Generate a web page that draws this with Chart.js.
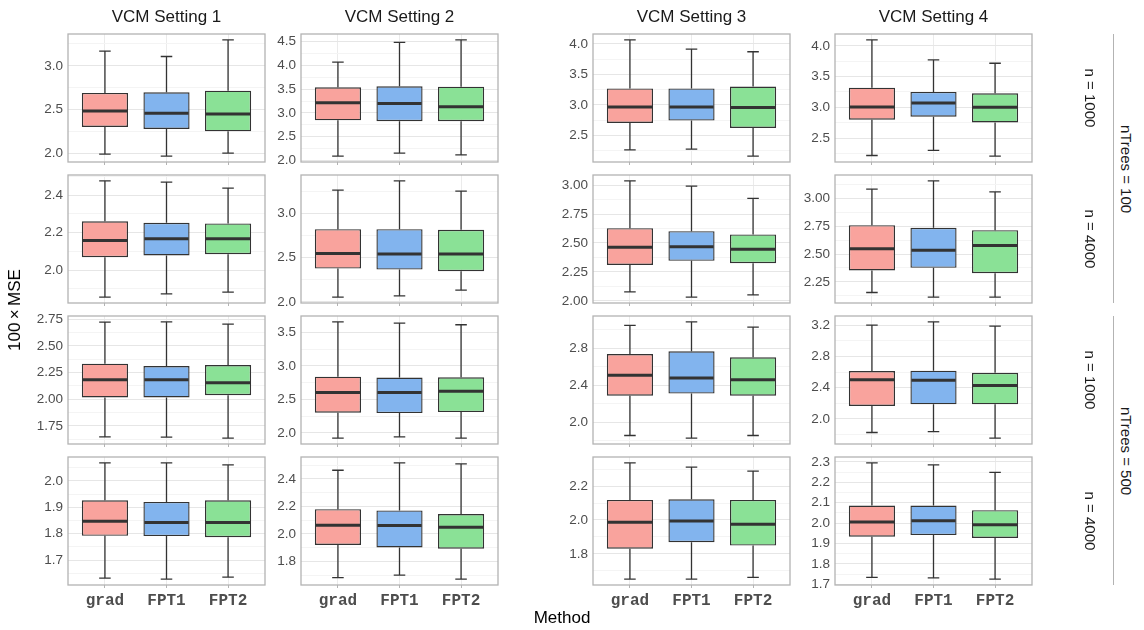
<!DOCTYPE html>
<html>
<head>
<meta charset="utf-8">
<script src="https://cdn.jsdelivr.net/npm/chart.js@4.4.0/dist/chart.umd.min.js"></script>
<style>
  body { margin: 0; background: #fff; }
  #wrap { position: relative; width: 1144px; height: 630px; overflow: hidden; font-family: "Liberation Sans", Arial, sans-serif; }
  #wrap canvas { position: absolute; }
  .lbl { position: absolute; white-space: nowrap; color: #1a1a1a; transform: translate(-50%, -50%); }
  .rot { transform: translate(-50%, -50%) rotate(90deg); }
  .rotl { transform: translate(-50%, -50%) rotate(-90deg); }
  .line { position: absolute; width: 1px; background: #b3b3b3; }
</style>
</head>
<body>
<div id="wrap"></div>
<script>
// methods on the x axis
var categories = ['grad', 'FPT1', 'FPT2'];
var colTitles = ['VCM Setting 1', 'VCM Setting 2', 'VCM Setting 3', 'VCM Setting 4'];
var rowLabels = ['n = 1000', 'n = 4000', 'n = 1000', 'n = 4000'];
var treeLabels = ['nTrees = 100', 'nTrees = 500'];

// box statistics, [row][column][method]
var whiskerLow = [
  [[1.990, 1.966, 2.000], [2.090, 2.153, 2.118], [2.266, 2.277, 2.163], [2.217, 2.299, 2.206]],
  [[1.856, 1.874, 1.883], [2.053, 2.068, 2.132], [2.078, 2.032, 2.052], [2.154, 2.112, 2.112]],
  [[1.646, 1.643, 1.634], [1.920, 1.940, 1.920], [1.856, 1.827, 1.856], [1.826, 1.838, 1.753]],
  [[1.632, 1.628, 1.636], [1.683, 1.700, 1.671], [1.651, 1.651, 1.662], [1.734, 1.731, 1.725]]
];
var quartile1 = [
  [[2.300, 2.278, 2.250], [2.846, 2.825, 2.825], [2.706, 2.745, 2.625], [2.800, 2.848, 2.755]],
  [[2.069, 2.078, 2.085], [2.377, 2.366, 2.347], [2.311, 2.346, 2.326], [2.352, 2.376, 2.328]],
  [[2.016, 2.016, 2.038], [2.300, 2.295, 2.310], [2.288, 2.310, 2.288], [2.166, 2.187, 2.187]],
  [[1.792, 1.791, 1.787], [1.920, 1.902, 1.893], [1.831, 1.869, 1.849], [1.933, 1.941, 1.927]]
];
var medians = [
  [[2.483, 2.456, 2.449], [3.217, 3.200, 3.133], [2.967, 2.967, 2.957], [3.005, 3.070, 3.000]],
  [[2.158, 2.167, 2.167], [2.547, 2.543, 2.543], [2.464, 2.467, 2.447], [2.547, 2.535, 2.577]],
  [[2.182, 2.182, 2.154], [2.604, 2.604, 2.620], [2.508, 2.480, 2.461], [2.502, 2.494, 2.426]],
  [[1.847, 1.842, 1.842], [2.063, 2.061, 2.049], [1.986, 1.994, 1.975], [2.005, 2.011, 1.992]]
];
var quartile3 = [
  [[2.690, 2.696, 2.715], [3.540, 3.560, 3.553], [3.270, 3.270, 3.300], [3.320, 3.250, 3.228]],
  [[2.260, 2.252, 2.249], [2.823, 2.823, 2.815], [2.628, 2.602, 2.574], [2.760, 2.736, 2.715]],
  [[2.333, 2.311, 2.320], [2.840, 2.826, 2.830], [2.739, 2.768, 2.703], [2.613, 2.617, 2.591]],
  [[1.926, 1.920, 1.926], [2.180, 2.171, 2.144], [2.118, 2.122, 2.118], [2.086, 2.086, 2.063]]
];
var whiskerHigh = [
  [[3.167, 3.106, 3.297], [4.070, 4.485, 4.540], [4.065, 3.913, 3.870], [4.098, 3.772, 3.717]],
  [[2.476, 2.469, 2.437], [3.264, 3.370, 3.253], [3.037, 2.991, 2.885], [3.084, 3.159, 3.060]],
  [[2.723, 2.726, 2.704], [3.660, 3.640, 3.616], [3.049, 3.088, 3.031], [3.200, 3.243, 3.187]],
  [[2.068, 2.068, 2.060], [2.463, 2.517, 2.510], [2.337, 2.312, 2.288], [2.295, 2.285, 2.248]]
];
// major tick step of each panel's y axis
var yStep = [
  [0.5, 0.5, 0.5, 0.5],
  [0.2, 0.5, 0.25, 0.25],
  [0.25, 0.5, 0.4, 0.4],
  [0.1, 0.2, 0.2, 0.1]
];

var fillColors = ['#F9A39D', '#82B4EE', '#8AE196'];
var colLeft = [68, 301, 593, 835];
var rowTop = [34, 175, 316, 457];
var panelW = 197, panelH = 128;

var wrap = document.getElementById('wrap');

function addLabel(text, x, y, cls, css) {
  var d = document.createElement('div');
  d.className = 'lbl ' + (cls || '');
  d.textContent = text;
  d.style.left = x + 'px';
  d.style.top = y + 'px';
  for (var k in css) d.style[k] = css[k];
  wrap.appendChild(d);
}

// whiskers, caps and medians drawn from the scales
var boxExtras = {
  id: 'boxExtras',
  afterDatasetsDraw: function(chart, args, opts) {
    var ctx = chart.ctx, y = chart.scales.y;
    var meta = chart.getDatasetMeta(0);
    ctx.save();
    ctx.strokeStyle = '#333333';
    meta.data.forEach(function(el, i) {
      var top = Math.min(el.y, el.base), bot = Math.max(el.y, el.base);
      var yHi = y.getPixelForValue(opts.hi[i]);
      var yLo = y.getPixelForValue(opts.lo[i]);
      var cap = el.width * 0.125;
      ctx.lineWidth = 1.3;
      ctx.beginPath();
      ctx.moveTo(el.x, top); ctx.lineTo(el.x, yHi);
      ctx.moveTo(el.x, bot); ctx.lineTo(el.x, yLo);
      ctx.moveTo(el.x - cap, yHi); ctx.lineTo(el.x + cap, yHi);
      ctx.moveTo(el.x - cap, yLo); ctx.lineTo(el.x + cap, yLo);
      ctx.stroke();
      var ym = y.getPixelForValue(opts.med[i]);
      ctx.lineWidth = 3;
      ctx.beginPath();
      ctx.moveTo(el.x - el.width / 2 + 1, ym); ctx.lineTo(el.x + el.width / 2 - 1, ym);
      ctx.stroke();
    });
    ctx.restore();
  },
  afterDraw: function(chart) {
    var a = chart.chartArea, ctx = chart.ctx;
    ctx.save();
    ctx.strokeStyle = '#b3b3b3';
    ctx.lineWidth = 1.3;
    ctx.strokeRect(a.left, a.top, a.right - a.left, a.bottom - a.top);
    ctx.restore();
  }
};

function makePanel(r, c) {
  var padL = 46, padT = 12, padR = 8, padB = 4;
  var xh = r === 3 ? 30 : 6;
  var W = panelW + padL + padR, H = panelH + padT + xh + padB;
  var cv = document.createElement('canvas');
  cv.width = W; cv.height = H;
  cv.style.width = W + 'px'; cv.style.height = H + 'px';
  cv.style.left = (colLeft[c] - padL) + 'px';
  cv.style.top = (rowTop[r] - padT) + 'px';
  wrap.appendChild(cv);

  var lo = whiskerLow[r][c], hi = whiskerHigh[r][c];
  var minV = Math.min.apply(null, lo), maxV = Math.max.apply(null, hi);
  var span = maxV - minV;
  var yMin = minV - 0.05 * span, yMax = maxV + 0.05 * span;
  var step = yStep[r][c], half = step / 2;
  var dec = step === 0.25 ? 2 : 1;
  function isMajor(v) { return Math.abs(v / step - Math.round(v / step)) < 1e-6; }

  new Chart(cv, {
    type: 'bar',
    data: {
      datasets: [{
        data: categories.map(function(k, i) {
          return { x: i + 1, y: [quartile1[r][c][i], quartile3[r][c][i]] };
        }),
        backgroundColor: fillColors,
        borderColor: '#333333',
        borderWidth: 1.4,
        borderSkipped: false,
        barPercentage: 0.75,
        categoryPercentage: 1
      }]
    },
    options: {
      responsive: false,
      animation: false,
      events: [],
      layout: { padding: { left: 0, top: padT, right: padR, bottom: padB } },
      plugins: {
        legend: { display: false },
        tooltip: { enabled: false },
        boxExtras: { lo: lo, hi: hi, med: medians[r][c] }
      },
      scales: {
        x: {
          type: 'linear', min: 0.4, max: 3.6, offset: false,
          afterBuildTicks: function(s) { s.ticks = categories.map(function(k, i) { return { value: i + 1 }; }); },
          afterFit: function(s) { s.height = xh; s.paddingLeft = 0; s.paddingRight = 0; },
          grid: { offset: false, color: '#ebebeb', tickColor: '#b3b3b3', tickLength: 3, lineWidth: 1 },
          border: { display: false },
          ticks: {
            display: r === 3, autoSkip: false, maxRotation: 0, padding: 3,
            color: '#4d4d4d',
            font: { family: '"Liberation Mono", "DejaVu Sans Mono", monospace', size: 16, weight: 'bold' },
            callback: function(v) { return categories[Math.round(v) - 1]; }
          }
        },
        y: {
          min: yMin, max: yMax,
          afterBuildTicks: function(s) {
            var t = [];
            for (var k = Math.ceil(yMin / half - 1e-9); k * half <= yMax + 1e-9; k++) {
              t.push({ value: Math.round(k * half * 10000) / 10000 });
            }
            s.ticks = t;
          },
          afterFit: function(s) { s.width = padL; s.paddingTop = 0; s.paddingBottom = 0; },
          grid: {
            drawTicks: false, lineWidth: 1,
            color: function(ctx) { return ctx.tick && isMajor(ctx.tick.value) ? '#e6e6e6' : '#f4f4f4'; }
          },
          border: { display: false },
          ticks: {
            autoSkip: false, padding: 5, color: '#4d4d4d',
            font: { family: '"Liberation Sans", Arial, sans-serif', size: 13.5 },
            callback: function(v) { return isMajor(v) ? v.toFixed(dec) : ''; }
          }
        }
      }
    },
    plugins: [boxExtras]
  });
}

for (var r = 0; r < 4; r++) {
  for (var c = 0; c < 4; c++) makePanel(r, c);
}

colTitles.forEach(function(t, c) {
  addLabel(t, colLeft[c] + panelW / 2, 17, '', { fontSize: '17px' });
});
rowLabels.forEach(function(t, r) {
  addLabel(t, 1090, rowTop[r] + panelH / 2, 'rot', { fontSize: '15px' });
});
treeLabels.forEach(function(t, i) {
  var top = rowTop[i * 2], bot = rowTop[i * 2 + 1] + panelH;
  addLabel(t, 1126, (top + bot) / 2, 'rot', { fontSize: '15px' });
  var ln = document.createElement('div');
  ln.className = 'line';
  ln.style.left = '1113px';
  ln.style.top = top + 'px';
  ln.style.height = (bot - top) + 'px';
  wrap.appendChild(ln);
});
addLabel('100\u2009\u00d7\u2009MSE', 15, 310, 'rotl', { fontSize: '17px', color: '#000' });
addLabel('Method', 562, 618, '', { fontSize: '17px', color: '#000' });
</script>
</body>
</html>
